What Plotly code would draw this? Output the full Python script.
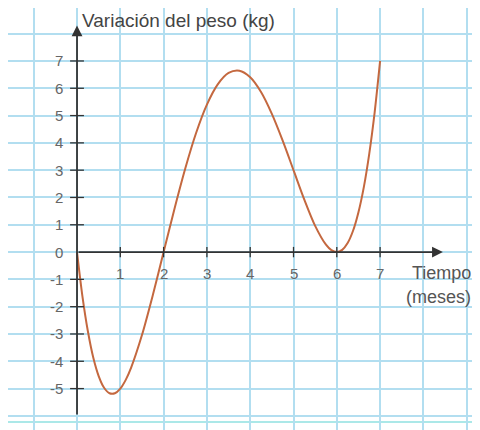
import plotly.graph_objects as go

# Data
meses = [0, 0.125, 0.25, 0.375, 0.5, 0.625, 0.75, 0.875, 1, 1.125, 1.25, 1.5, 1.75, 2,
         2.25, 2.5, 2.75, 3, 3.25, 3.5, 3.75, 4, 4.25, 4.5, 4.75, 5, 5.25, 5.5, 5.75,
         5.875, 6, 6.125, 6.25, 6.375, 6.5, 6.625, 6.75, 6.875, 7]
peso = [0, -1.62, -2.89, -3.86, -4.54, -4.97, -5.17, -5.17, -5.0, -4.68, -4.23, -3.04,
        -1.58, 0, 1.58, 3.06, 4.36, 5.4, 6.14, 6.56, 6.64, 6.4, 5.86, 5.06, 4.08, 3.0,
        1.92, 0.96, 0.27, 0.07, 0, 0.08, 0.33, 0.78, 1.46, 2.39, 3.61, 5.13, 7.0]
x_ticks = [1, 2, 3, 4, 5, 6, 7]
x_tick_labels = ["1", "2", "3", "4", "5", "6", "7"]
y_ticks = [7, 6, 5, 4, 3, 2, 1, 0, -1, -2, -3, -4, -5]
y_tick_labels = ["7", "6", "5", "4", "3", "2", "1", "0", "-1", "-2", "-3", "-4", "-5"]

FONT = "Liberation Sans, Arial, sans-serif"
AXIS = "#333333"
GRID = "#b2def0"

fig = go.Figure()
fig.add_trace(go.Scatter(x=meses, y=peso, mode="lines",
                         line=dict(color="#c4683f", width=2, shape="spline", smoothing=0.8),
                         hoverinfo="skip", showlegend=False))

shapes = []
# bottom border line of the grid paper
shapes.append(dict(type="line", xref="paper", yref="y", x0=0, x1=1, y0=-6.22, y1=-6.22,
                   line=dict(color="#8fe0e0", width=1.5), layer="below"))
# tick marks
for xv in x_ticks:
    shapes.append(dict(type="line", xref="x", yref="y", x0=xv, x1=xv, y0=-0.19, y1=0.19,
                       line=dict(color=AXIS, width=1.3)))
for yv in y_ticks:
    if yv == 0:
        continue
    shapes.append(dict(type="line", xref="x", yref="y", x0=-0.16, x1=0.16, y0=yv, y1=yv,
                       line=dict(color=AXIS, width=1.3)))

annotations = []
# axes with arrow heads
annotations.append(dict(x=8.45, y=0, ax=0, ay=0, xref="x", yref="y", axref="x", ayref="y",
                        showarrow=True, arrowhead=2, arrowsize=1.2, arrowwidth=1.8,
                        arrowcolor=AXIS, text=""))
annotations.append(dict(x=0, y=8.3, ax=0, ay=-6.0, xref="x", yref="y", axref="x", ayref="y",
                        showarrow=True, arrowhead=2, arrowsize=1.2, arrowwidth=1.8,
                        arrowcolor=AXIS, text=""))
for xv, lab in zip(x_ticks, x_tick_labels):
    annotations.append(dict(x=xv, y=0, xref="x", yref="y", text=lab, showarrow=False,
                            xanchor="center", yanchor="top", yshift=-11,
                            font=dict(family=FONT, size=15, color="#666666")))
for yv, lab in zip(y_ticks, y_tick_labels):
    annotations.append(dict(x=0, y=yv, xref="x", yref="y", text=lab, showarrow=False,
                            xanchor="right", yanchor="middle", xshift=-12,
                            font=dict(family=FONT, size=15, color="#666666")))
annotations.append(dict(x=0, y=8.5, xref="x", yref="y", text="Variación del peso (kg)",
                        showarrow=False, xanchor="left", yanchor="middle", xshift=3,
                        font=dict(family=FONT, size=19, color="#444444")))
annotations.append(dict(x=9.14, y=-0.78, xref="x", yref="y", text="Tiempo",
                        showarrow=False, xanchor="right", yanchor="middle",
                        font=dict(family=FONT, size=18, color="#555555")))
annotations.append(dict(x=9.14, y=-1.66, xref="x", yref="y", text="(meses)",
                        showarrow=False, xanchor="right", yanchor="middle",
                        font=dict(family=FONT, size=18, color="#555555")))

# page body has an 8px margin: ranges chosen so x=0 lands at 77px and y=0 at 252px on screen
fig.update_layout(
    width=480, height=430,
    margin=dict(l=0, r=0, t=0, b=0),
    paper_bgcolor="white", plot_bgcolor="white",
    xaxis=dict(range=[-1.594, 9.492], dtick=1, tick0=0, showgrid=True, gridcolor=GRID,
               gridwidth=1.5, zeroline=False, showticklabels=False, ticks="",
               showline=False, fixedrange=True),
    yaxis=dict(range=[-6.81, 8.94], dtick=1, tick0=0, showgrid=True, gridcolor=GRID,
               gridwidth=1.5, zeroline=False, showticklabels=False, ticks="",
               showline=False, fixedrange=True),
    shapes=shapes,
    annotations=annotations,
    showlegend=False,
)

fig.write_html("out.html")
